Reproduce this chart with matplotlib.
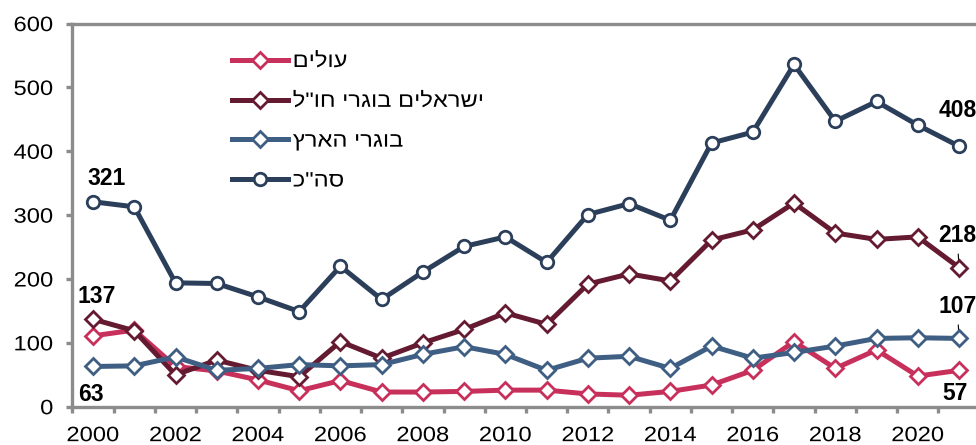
import matplotlib
matplotlib.use("Agg")
import matplotlib.pyplot as plt
from matplotlib.patheffects import AbstractPathEffect
from matplotlib.transforms import Affine2D

plt.rcParams['font.family'] = ['Liberation Sans', 'DejaVu Sans']

years = list(range(2000, 2022))
olim = [111, 120, 63, 56, 42, 25, 41, 23, 23, 24, 26, 26, 20, 18, 24, 34, 57, 102, 60, 89, 48, 57]
israelis_abroad = [137, 119, 50, 73, 57, 47, 102, 76, 100, 121, 147, 129, 192, 208, 197, 261, 277, 319, 272, 262, 266, 218]
local_grads = [63, 64, 78, 57, 60, 66, 64, 66, 82, 94, 82, 57, 76, 79, 60, 95, 76, 85, 95, 107, 108, 107]
total = [321, 313, 194, 193, 172, 149, 220, 168, 211, 251, 266, 226, 301, 318, 292, 413, 430, 536, 447, 478, 441, 408]

labels = ['עולים', 'ישראלים בוגרי חו"ל', 'בוגרי הארץ', 'סה"כ']
xtick_labels = [str(y) for y in years if y % 2 == 0]
yticks = [0, 100, 200, 300, 400, 500, 600]


def vis(s):
    # matplotlib draws left-to-right; reverse Hebrew for visual RTL order
    return s[::-1]


class HStretch(AbstractPathEffect):
    """Widen text horizontally about a pivot (left / center / right)."""

    def __init__(self, sx, align='left'):
        super().__init__()
        self.sx = sx
        self.align = align

    def draw_path(self, renderer, gc, tpath, affine, rgbFace=None):
        ext = tpath.get_extents()
        if self.align == 'center':
            px = 0.5 * (ext.x0 + ext.x1)
        elif self.align == 'right':
            px = ext.x1
        else:
            px = ext.x0
        t = Affine2D().translate(-px, 0).scale(self.sx, 1).translate(px, 0) + affine
        renderer.draw_path(gc, tpath, t, rgbFace)


c_olim = '#C8305C'
c_abroad = '#641A30'
c_local = '#3F5E83'
c_total = '#2B3F5A'
c_axis = '#8C8C8C'

FS = 15
FSB = 16.5
SX = 1.14

fig = plt.figure(figsize=(9.76, 4.45), dpi=100)
ax = fig.add_axes([0.0742, 0.086, 0.9295, 0.861])

x = list(range(len(years)))
lw = 3.6
dms = 8.5
ax.plot(x, olim, color=c_olim, lw=lw, marker='D', ms=dms, mfc='white', mec=c_olim, mew=2.0, label=vis(labels[0]), zorder=3)
ax.plot(x, israelis_abroad, color=c_abroad, lw=lw, marker='D', ms=dms, mfc='white', mec=c_abroad, mew=2.0, label=vis(labels[1]), zorder=4)
ax.plot(x, local_grads, color=c_local, lw=lw, marker='D', ms=dms, mfc='white', mec=c_local, mew=2.0, label=vis(labels[2]), zorder=5)
ax.plot(x, total, color=c_total, lw=lw, marker='o', ms=9, mfc='white', mec=c_total, mew=2.0, label=vis(labels[3]), zorder=6)

ax.set_xlim(-0.5, len(years) - 0.5)
ax.set_ylim(0, 600)
ax.set_yticks(yticks)
ax.set_yticklabels([str(v) for v in yticks])

major = [i for i, y in enumerate(years) if y % 2 == 0]
ax.set_xticks(major)
ax.set_xticklabels(xtick_labels)
ax.set_xticks([i - 0.5 for i in range(len(years) + 1)], minor=True)
ax.tick_params(axis='x', which='major', length=0, pad=14, labelsize=FS)
ax.tick_params(axis='x', which='minor', length=4, width=2.4, color=c_axis, direction='out')
ax.tick_params(axis='y', length=4, width=2.4, color=c_axis, direction='out', pad=9.7, labelsize=FS)

for s in ['left', 'bottom', 'top']:
    ax.spines[s].set_color(c_axis)
    ax.spines[s].set_linewidth(2.4)
ax.spines['right'].set_visible(False)

kw = dict(fontsize=FSB, fontweight='bold', color='black', annotation_clip=False)
n = len(years) - 1
ax.annotate(str(total[0]), xy=(0, total[0]), xytext=(-4.3, 17), textcoords='offset points', ha='left', va='center', **kw)
ax.annotate(str(israelis_abroad[0]), xy=(0, israelis_abroad[0]), xytext=(-11.5, 16.7), textcoords='offset points', ha='left', va='center', **kw)
ax.annotate(str(local_grads[0]), xy=(0, local_grads[0]), xytext=(-11, -20.5), textcoords='offset points', ha='left', va='center', **kw)
ax.annotate(str(total[n]), xy=(n, total[n]), xytext=(-15, 26), textcoords='offset points', ha='left', va='center', **kw)
ax.annotate(str(israelis_abroad[n]), xy=(n, israelis_abroad[n]), xytext=(-15, 23), textcoords='offset points', ha='left', va='center',
            arrowprops=dict(arrowstyle='-', color='black', lw=0.8, shrinkA=3, shrinkB=0), **kw)
ax.annotate(str(local_grads[n]), xy=(n, local_grads[n]), xytext=(-15, 23), textcoords='offset points', ha='left', va='center',
            arrowprops=dict(arrowstyle='-', color='black', lw=0.8, shrinkA=3, shrinkB=0), **kw)
ax.annotate(str(olim[n]), xy=(n, olim[n]), xytext=(-12, -17), textcoords='offset points', ha='left', va='center', **kw)

leg = ax.legend(loc='upper left', bbox_to_anchor=(232 / 976, 1 - 52 / 445), bbox_transform=fig.transFigure,
                frameon=False, fontsize=FS, handlelength=2.7, handletextpad=0.22, labelspacing=1.0, borderpad=0, borderaxespad=0)

fig.canvas.draw()
for t in ax.get_xticklabels():
    t.set_path_effects([HStretch(SX, 'center')])
for t in ax.get_yticklabels():
    t.set_path_effects([HStretch(SX, 'right')])
for t in leg.get_texts():
    t.set_path_effects([HStretch(SX, 'left')])

fig.savefig('out.png', dpi=100)
